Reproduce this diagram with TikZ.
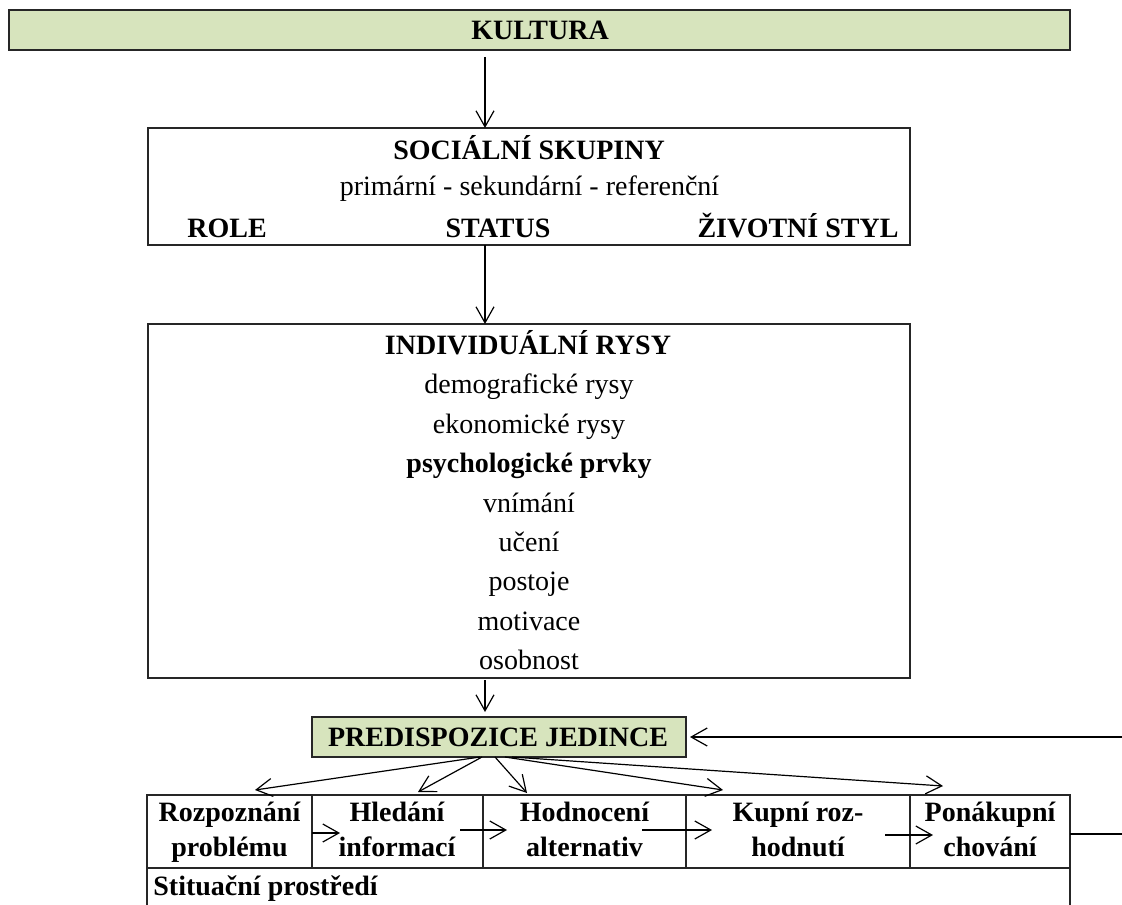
\documentclass[tikz,border=0pt]{standalone}
\usepackage{fontspec}
\setmainfont{Liberation Serif}
\usetikzlibrary{arrows.meta,calc}
\definecolor{kgreen}{HTML}{D7E4BD}
\begin{document}
\begin{tikzpicture}[x=0.5pt,y=-0.5pt,
  every node/.style={font=\fontsize{14pt}{17pt}\selectfont},
  box/.style={draw=black!85, line width=0.75pt, inner sep=0pt, outer sep=0pt},
  gbox/.style={box, fill=kgreen},
  txt/.style={inner sep=0pt, anchor=base},
  btxt/.style={txt, font=\fontsize{14pt}{17pt}\selectfont\bfseries},
  arr/.style={line width=0.6pt, -{Straight Barb[length=8pt,width=9pt]}},
  ln/.style={line width=0.65pt}]
\useasboundingbox (0,0) rectangle (1122,904);

% top box
\node[gbox, minimum width=530.5pt, minimum height=20pt] (kult) at (539.5,30) {};
\node[btxt] (kultT) at (540,39.5) {KULTURA};

% social groups
\node[box, minimum width=381pt, minimum height=58.5pt] (soc) at (529,186.5) {};
\node[btxt] (socT) at (529,159.5) {SOCIÁLNÍ SKUPINY};
\node[txt] (socS) at (529.5,195) {primární - sekundární - referenční};
\node[btxt] (role) at (227,237) {ROLE};
\node[btxt] (status) at (498,237) {STATUS};
\node[btxt] (styl) at (798,237) {ŽIVOTNÍ STYL};

% individual traits
\node[box, minimum width=381pt, minimum height=177pt] (ind) at (529,501) {};
\node[btxt] (i1) at (528,354.5) {INDIVIDUÁLNÍ RYSY};
\node[txt] (i2) at (529,393.9) {demografické rysy};
\node[txt] (i3) at (529,433.3) {ekonomické rysy};
\node[btxt] (i4) at (529,472.7) {psychologické prvky};
\node[txt] (i5) at (529,512.1) {vnímání};
\node[txt] (i6) at (529,551.5) {učení};
\node[txt] (i7) at (529,590.9) {postoje};
\node[txt] (i8) at (529,630.3) {motivace};
\node[txt] (i9) at (529,669.7) {osobnost};

% predisposition
\node[gbox, minimum width=187pt, minimum height=20pt] (pred) at (499,737) {};
\node[btxt] (predT) at (498,746.5) {PREDISPOZICE JEDINCE};

% process row
\node[box, minimum width=82.5pt, minimum height=36.5pt] (rozp) at (229.5,831.5) {};
\node[box, minimum width=85.5pt, minimum height=36.5pt] (hled) at (397.5,831.5) {};
\node[box, minimum width=101.5pt, minimum height=36.5pt] (hodn) at (584.5,831.5) {};
\node[box, minimum width=112pt, minimum height=36.5pt] (kupn) at (798,831.5) {};
\node[box, minimum width=80pt, minimum height=36.5pt] (pona) at (990,831.5) {};

\node[btxt] (r1) at (229.5,821) {Rozpoznání};
\node[btxt] (r2) at (229.5,856) {problému};
\node[btxt] (h1) at (397,821) {Hledání};
\node[btxt] (h2) at (397,856) {informací};
\node[btxt] (o1) at (584.5,821) {Hodnocení};
\node[btxt] (o2) at (584.5,856) {alternativ};
\node[btxt] (k1) at (798,821) {Kupní roz-};
\node[btxt] (k2) at (798,856) {hodnutí};
\node[btxt] (p1) at (990,821) {Ponákupní};
\node[btxt] (p2) at (990,856) {chování};

% situational environment
\node[btxt, anchor=base west] (sit) at (153,895) {Stituační prostředí};
\draw[box] (rozp.south west) -- ++(0,40);
\draw[box] (pona.south east) -- ++(0,40);

% vertical arrows
\draw[arr] ($(kult.south)+(-54.5,7)$) -- ($(soc.north)+(-44,0)$);
\draw[arr] ($(soc.south)+(-44,0)$) -- ($(ind.north)+(-44,0)$);
\draw[arr] ($(ind.south)+(-44,2)$) -- ($(pred.north)+(-14,-5)$);

% feedback
\coordinate (fbR) at (1122,737);
\coordinate (outR) at (1122,834);
\draw[arr] (fbR) -- ($(pred.east)+(4,0)$);
\draw[ln] ($(pona.east)+(0,2.5)$) -- (outR);

% fan arrows
\draw[arr] ($(pred.south)+(-19,0)$) -- ($(rozp.north)+(25.5,-5)$);
\draw[arr] ($(pred.south)+(-17,0)$) -- ($(hled.north)+(20.5,-3)$);
\draw[arr] ($(pred.south)+(-4,0)$) -- ($(hodn.north)+(-57.5,-2)$);
\draw[arr] ($(pred.south)+(6,0)$) -- ($(kupn.north)+(-75,-5)$);
\draw[arr] ($(pred.south)+(13,0)$) -- ($(pona.north)+(-47,-9)$);

% row arrows
\draw[arr] ($(rozp.east)+(0,1.5)$) -- ($(hled.west)+(28,1.5)$);
\draw[arr] ($(hled.east)+(-23,-1.5)$) -- ($(hodn.west)+(24,-1.5)$);
\draw[arr] ($(hodn.east)+(-44,-1.5)$) -- ($(kupn.west)+(26,-1.5)$);
\draw[arr] ($(kupn.east)+(-25,3.5)$) -- ($(pona.west)+(23,3.5)$);
\end{tikzpicture}
\end{document}
